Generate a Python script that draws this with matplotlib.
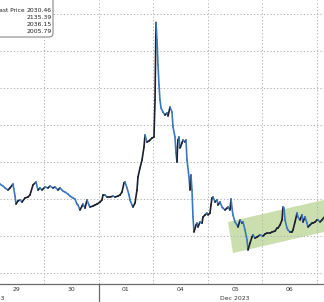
import matplotlib
matplotlib.use("Agg")
import matplotlib.pyplot as plt
import numpy as np
from matplotlib.collections import LineCollection
from matplotlib.patches import FancyBboxPatch, Polygon
from matplotlib.transforms import IdentityTransform, blended_transform_factory
from matplotlib.lines import Line2D

# ---- data (x in trading-session days: Nov29=[1,2], Nov30=[2,3], Dec1=[3,4], Dec4=[4,5], Dec5=[5,6], Dec6=[6,7]) ----
days = [1.157, 1.194, 1.249, 1.286, 1.341, 1.377, 1.432, 1.469, 1.487, 1.524, 1.560, 1.597, 1.652, 1.707,
        1.743, 1.798, 1.853, 1.890, 1.927, 1.963, 2.018, 2.073, 2.110, 2.165, 2.201, 2.256, 2.293, 2.348,
        2.384, 2.439, 2.476, 2.531, 2.568, 2.604, 2.623, 2.659, 2.696, 2.714, 2.751, 2.787, 2.824, 2.842,
        2.897, 2.934, 2.971, 3.026, 3.062, 3.080, 3.117, 3.154, 3.209, 3.264, 3.300, 3.355, 3.392, 3.428,
        3.465, 3.483, 3.520, 3.557, 3.575, 3.612, 3.630, 3.667, 3.703, 3.721, 3.758, 3.795, 3.831, 3.850,
        3.886, 3.923, 3.941, 3.978, 4.014, 4.033, 4.051, 4.069, 4.088, 4.106, 4.124, 4.143, 4.179, 4.216,
        4.253, 4.271, 4.308, 4.344, 4.363, 4.399, 4.417, 4.436, 4.445, 4.454, 4.472, 4.491, 4.527, 4.546,
        4.582, 4.600, 4.619, 4.655, 4.674, 4.692, 4.710, 4.729, 4.747, 4.784, 4.802, 4.820, 4.857, 4.894,
        4.912, 4.949, 4.985, 5.004, 5.040, 5.058, 5.077, 5.095, 5.132, 5.168, 5.187, 5.223, 5.260, 5.278,
        5.315, 5.352, 5.370, 5.406, 5.425, 5.443, 5.461, 5.498, 5.535, 5.553, 5.590, 5.626, 5.645, 5.681,
        5.718, 5.736, 5.773, 5.809, 5.828, 5.864, 5.901, 5.956, 6.011, 6.047, 6.084, 6.139, 6.176, 6.231,
        6.267, 6.285, 6.322, 6.359, 6.377, 6.395, 6.414, 6.450, 6.469, 6.505, 6.542, 6.560, 6.597, 6.634,
        6.652, 6.689, 6.725, 6.743, 6.780, 6.817, 6.835, 6.872, 6.908, 6.927, 6.963, 7.000, 7.018, 7.055,
        7.091, 7.140]
prices = [2048.7, 2048.1, 2047.0, 2046.0, 2044.9, 2046.0, 2048.1, 2041.6, 2037.3, 2039.0, 2039.5, 2038.4, 2040.6, 2041.1,
          2042.2, 2047.6, 2049.2, 2044.9, 2046.0, 2044.9, 2046.5, 2046.0, 2047.0, 2046.0, 2046.5, 2044.9, 2046.0, 2044.3,
          2043.8, 2042.7, 2041.6, 2040.6, 2040.0, 2037.3, 2036.8, 2034.1, 2036.2, 2037.3, 2035.1, 2039.5, 2036.8, 2035.7,
          2036.2, 2036.8, 2037.3, 2038.4, 2039.5, 2042.2, 2042.2, 2041.1, 2041.1, 2041.6, 2041.1, 2041.6, 2042.2, 2043.8,
          2048.7, 2049.2, 2046.0, 2042.2, 2039.5, 2036.8, 2035.7, 2037.9, 2044.9, 2051.9, 2056.8, 2061.1, 2068.1, 2074.6,
          2070.8, 2071.4, 2071.9, 2073.0, 2073.5, 2093.5, 2135.39, 2125.9, 2112.4, 2101.6, 2093.5, 2089.2, 2087.0, 2085.4,
          2086.5, 2084.9, 2089.7, 2087.0, 2078.9, 2073.5, 2064.9, 2060.0, 2068.1, 2071.9, 2073.5, 2067.6, 2070.3, 2071.9,
          2070.8, 2071.9, 2061.1, 2051.9, 2044.9, 2053.0, 2044.9, 2030.3, 2022.2, 2026.0, 2027.0, 2024.9, 2027.6, 2027.0,
          2030.3, 2031.4, 2032.4, 2031.4, 2032.4, 2036.8, 2040.6, 2041.1, 2038.4, 2039.5, 2036.8, 2038.4, 2035.7, 2035.1,
          2034.1, 2035.1, 2035.7, 2034.1, 2040.0, 2035.1, 2031.4, 2027.6, 2026.0, 2024.9, 2028.7, 2027.0, 2027.6, 2023.3,
          2017.9, 2012.5, 2016.2, 2019.5, 2020.6, 2018.9, 2019.5, 2020.6, 2020.0, 2021.1, 2021.6, 2021.6, 2022.2, 2022.7,
          2024.3, 2024.3, 2026.0, 2028.7, 2035.7, 2035.1, 2028.7, 2024.3, 2023.3, 2022.2, 2022.2, 2023.3, 2027.6, 2032.4,
          2030.3, 2028.7, 2031.4, 2027.6, 2030.3, 2027.0, 2024.9, 2026.0, 2027.0, 2027.0, 2027.6, 2028.7, 2028.7, 2027.6,
          2028.7, 2030.46]

day_labels = ["29", "30", "01", "04", "05", "06"]
day_label_pos = [1.5, 2.5, 3.5, 4.5, 5.5, 6.5]
day_bounds = [2, 3, 4, 5, 6, 7]
month_boundary = 3
month_labels = ["Nov 2023", "Dec 2023"]
month_label_pos = [1.0, 5.5]
grid_levels = [2000, 2020, 2040, 2060, 2080, 2100, 2120, 2140]

legend_labels = ["Last Price", "", "", ""]
legend_values = ["2030.46", "2135.39", "2036.15", "2005.79"]

channel_days = [5.370, 7.300, 7.300, 5.461]
channel_prices = [2027.6, 2040.7, 2023.4, 2010.8]

# ---- figure ----
W, H = 324, 302
FS = 4.4
fig = plt.figure(figsize=(W / 100, H / 100), dpi=100)
fig.patch.set_facecolor("white")
ax = fig.add_axes([0, 18 / H, 1, 284 / H])
ax.set_xlim(1.194, 7.128)
ax.set_ylim(1994.1, 2147.57)
ax.set_facecolor("white")

for s in ["top", "left", "right"]:
    ax.spines[s].set_visible(False)
ax.spines["bottom"].set_color("#6a6a6a")
ax.spines["bottom"].set_linewidth(0.9)
ax.set_yticks([])

grid_style = dict(color="#b4b4b4", lw=0.75, linestyle=(0, (1.2, 2.0)), zorder=2)
for g in grid_levels:
    ax.axhline(g, **grid_style)
for d in day_bounds:
    ax.axvline(d, **grid_style)

# channel
ax.add_patch(Polygon(list(zip(channel_days, channel_prices)), closed=True,
                     facecolor="#cbdeae", edgecolor="none", zorder=1))

# price line coloured by direction
x = np.array(days)
y = np.array(prices)
pts = np.column_stack([x, y]).reshape(-1, 1, 2)
segs = np.concatenate([pts[:-1], pts[1:]], axis=1)
cols = ["#1b1f2e" if y[i + 1] >= y[i] else "#3a78c4" for i in range(len(y) - 1)]
lc = LineCollection(segs, colors=cols, linewidths=1.2, zorder=3, capstyle="round", joinstyle="round")
ax.add_collection(lc)

ax.set_xticks(day_label_pos)
ax.set_xticklabels(day_labels)
ax.tick_params(axis="x", length=0, pad=2.4, labelsize=FS, labelcolor="#333333")

trans = blended_transform_factory(ax.transData, ax.transAxes)
for lab, pos in zip(month_labels, month_label_pos):
    ax.text(pos, -14 / 284, lab, transform=trans, ha="center", va="center", fontsize=FS, color="#333333")
ax.add_line(Line2D([month_boundary, month_boundary], [0, -20 / 284], transform=trans,
                   color="#6a6a6a", lw=0.9, clip_on=False))

# legend box (pixel coords)
ident = IdentityTransform()
box = FancyBboxPatch((-12, H - 37), 65, 50, boxstyle="round,pad=0,rounding_size=4",
                     transform=ident, facecolor="white", edgecolor="#8a8a8a", lw=0.8, zorder=5)
fig.add_artist(box)
rows_y = [10, 17.3, 24.4, 31.6]
for lab, val, ry in zip(legend_labels, legend_values, rows_y):
    if lab:
        fig.text(-4.2, H - ry, lab, transform=ident, ha="left", va="center", fontsize=4.2, color="#222222", zorder=6)
    fig.text(52, H - ry, val, transform=ident, ha="right", va="center", fontsize=FS, color="#222222", zorder=6)

fig.savefig("out.png", dpi=100)
